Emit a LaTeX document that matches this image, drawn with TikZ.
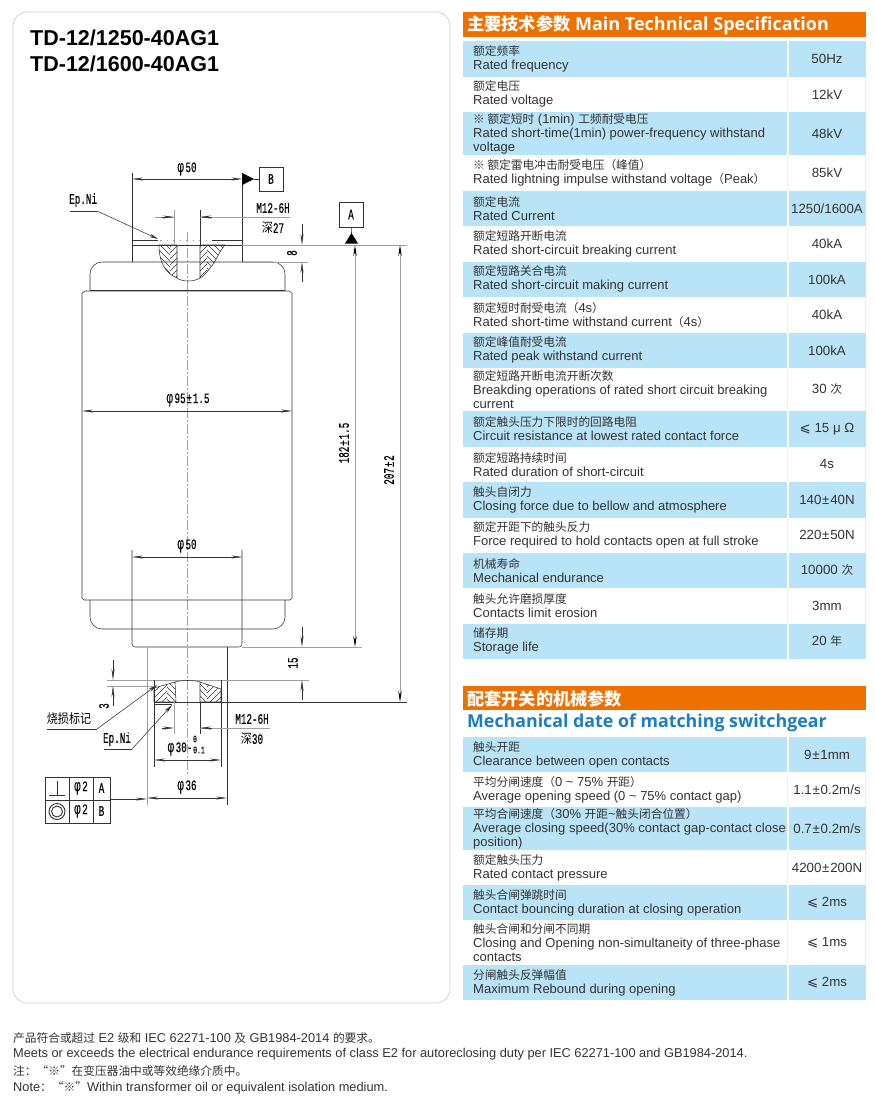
\documentclass[tikz,border=0pt]{standalone}
\usepackage{fontspec}
\usetikzlibrary{arrows.meta}
\setmainfont{Liberation Sans}
\newfontfamily\cjk{Noto Sans CJK SC}
\newfontfamily\cjkdraw[FakeStretch=0.85]{Noto Sans CJK SC}
\newfontfamily\headfont{Open Sans}
\newfontfamily\symb{DejaVu Sans}
\newfontfamily\drawfont[FakeStretch=0.64,FakeBold=0.2]{Liberation Mono}
\newcommand{\zh}[1]{{\cjk\fontsize{11.7}{14}\selectfont #1}}
\newcommand{\zhd}[1]{{\cjkdraw\fontsize{13}{14}\selectfont #1}}
\newcommand{\tolpm}{\kern0.8pt±\kern0.8pt}
\newcommand{\dia}{{\fontsize{17}{15}\selectfont φ}\kern1.5pt}
\definecolor{rowblue}{HTML}{B9E3F7}
\definecolor{headorange}{HTML}{EE7000}
\definecolor{headblue}{HTML}{1C7DC4}
\definecolor{inktext}{HTML}{333333}
\definecolor{inkline}{HTML}{333333}
\definecolor{greyline}{HTML}{A0A0A0}
\tikzstyle{specname} = [anchor=west, align=left, inner sep=0pt, text=inktext, font=\fontsize{13}{14}\selectfont]
\tikzstyle{specval} = [anchor=center, inner sep=0pt, text=inktext, font=\fontsize{13.3}{14}\selectfont]
\tikzstyle{headtext} = [anchor=west, inner sep=0pt, text=white, font=\headfont\bfseries\fontsize{18}{20}\selectfont]
\tikzstyle{notetext} = [anchor=west, inner sep=0pt, text=inktext, font=\fontsize{12.8}{14}\selectfont]
\tikzstyle{titletext} = [anchor=west, inner sep=0pt, font=\bfseries\fontsize{21.5}{23}\selectfont]
\tikzstyle{outline} = [inkline, line width=0.55pt]
\tikzstyle{thinline} = [greyline, line width=0.5pt]
\tikzstyle{dim} = [inkline, line width=0.45pt, {Stealth[length=11pt,width=3pt]}-{Stealth[length=11pt,width=3pt]}]
\tikzstyle{longdim} = [greyline, line width=0.8pt, {Stealth[length=11pt,width=3.5pt,color=black]}-{Stealth[length=11pt,width=3.5pt,color=black]}]
\tikzstyle{arrow} = [inkline, line width=0.45pt, -{Stealth[length=11pt,width=3pt]}]
\tikzstyle{leader} = [inkline, line width=0.55pt, -{Stealth[length=9pt,width=3.5pt]}]
\tikzstyle{axis} = [greyline, line width=0.45pt, dash pattern=on 10pt off 2pt on 2pt off 2pt]
\tikzstyle{label} = [inner sep=0pt, text=black, font=\drawfont\fontsize{14.5}{15}\selectfont]
\tikzstyle{smalllabel} = [inner sep=0pt, text=black, font=\drawfont\fontsize{10}{11}\selectfont]
\tikzstyle{datum} = [draw=inkline, line width=0.5pt, inner sep=0pt, text=black, font=\drawfont\fontsize{14.5}{15}\selectfont]
% hatch lines inside a path, cut to x0..x1: path, x0, x1, slope, y0, y1
\newcommand{\hatchpart}[6]{
    \begin{scope}
        \clip (#2,#5) rectangle (#3,#6);
        \clip #1;
        \foreach \hx in {100,106,...,280}
            \draw [inkline, line width=0.4pt] (\hx,#5) -- ({\hx+#4*(#6-#5)},#6);
    \end{scope}
}
% one table row: name, top, bottom, colour, text, value
\newcommand{\specrow}[6]{
    \ifx#4w\relax
        \draw [rowblue!45, line width=0.5pt] (787.5,#2) -- (787.5,#3);
        \draw [rowblue!45, line width=0.5pt] (865.5,#2) -- (865.5,#3);
    \else
        \fill [rowblue] (463,#2) rectangle (786.5,#3);
        \fill [rowblue] (788.5,#2) rectangle (866,#3);
    \fi
    \node [specname] at (473,{(#2+#3)/2}) (#1name) {#5};
    \node [specval] at (827,{(#2+#3)/2}) (#1val) {#6};
}
\newcommand{\hubtl}{(159,245) .. controls (159,262) and (165,273) .. (177,278) -- (177,245) -- cycle}
\newcommand{\hubtr}{(200,245) -- (225,245) .. controls (218,253) and (216,262) .. (210,268) .. controls (207,272) and (204,276) .. (200,278) -- cycle}
\newcommand{\hubll}{(154,688) -- (175,682) -- (176,702) -- (154,702) -- cycle}
\newcommand{\hublr}{(200,682) -- (221,689) -- (221,702) -- (200,702) -- cycle}
\begin{document}
\begin{tikzpicture}[x=1pt, y=-1pt]
    \useasboundingbox (0,0) rectangle (875,1100);
    \fill [white] (0,0) rectangle (875,1100);
    \draw [black!18, line width=0.8pt, rounded corners=14pt] (13,12) rectangle (450,1003);

    % title
    \node [titletext] at (30,38) (title1) {TD-12/1250-40AG1};
    \node [titletext] at (30,64) (title2) {TD-12/1600-40AG1};

    % drawing, body
    \draw [axis] (187.5,232) -- (187.5,775);
    \draw [outline] (82,293) -- (85,291) -- (289,291) -- (292,293) -- (292,598) -- (290,600) -- (84,600) -- (82,598) -- cycle;
    \draw [outline, rounded corners=12pt] (90,290) -- (90,262) -- (285,262) -- (285,290);
    \draw [outline] (90,290) -- (285,290);
    \draw [outline, rounded corners=12pt] (90,600) -- (90,629) -- (285,629) -- (285,600);
    % top terminal
    \hatchpart{\hubtl}{150}{170}{1}{245}{282}
    \hatchpart{\hubtl}{170}{180}{-1}{245}{282}
    \hatchpart{\hubtr}{198}{207}{-1}{245}{282}
    \hatchpart{\hubtr}{207}{230}{1}{245}{282}
    \draw [outline] \hubtl;
    \draw [outline] \hubtr;
    \draw [outline] (177,278) .. controls (182,282) and (194,282) .. (200,278);
    \draw [outline] (132,173) -- (132,262);
    \draw [outline] (242.3,173) -- (242.3,262);
    \draw [outline, line width=0.8pt] (132,240) -- (158,240);
    \draw [outline, line width=0.8pt] (212,240) -- (242,240);
    \draw [thinline, dash pattern=on 1.5pt off 5pt] (160,240) -- (212,240);
    \draw [thinline] (132,245) -- (407,245);
    \draw [outline] (132,245) -- (242,245);
    \draw [thinline] (242,262) -- (308,262);
    \draw [thinline] (174,210) -- (174,245);
    \draw [outline] (200,210) -- (200,245);
    % bottom terminal
    \draw [outline, rounded corners=3pt] (132,550) -- (132,647) -- (242,647) -- (242,550);
    \draw [thinline] (147,647) -- (147,805);
    \draw [outline] (227,647) -- (227,805);
    \draw [thinline] (242,647) -- (362,647);
    \draw [thinline] (107,680) -- (309,680);
    \draw [thinline] (107,686) -- (153,686);
    \hatchpart{\hubll}{150}{167}{-1}{680}{704}
    \hatchpart{\hubll}{167}{180}{1}{680}{704}
    \hatchpart{\hublr}{198}{207}{1}{680}{704}
    \hatchpart{\hublr}{207}{225}{-1}{680}{704}
    \draw [outline] \hubll;
    \draw [outline] \hublr;
    \draw [outline] (175,682) .. controls (180,680) and (195,680) .. (200,682);
    \draw [outline, line width=0.8pt] (154,702) -- (221,702);
    \draw [inkline, line width=0.7pt] (221,702) -- (407,702);
    \draw [outline] (154,704.5) -- (172,704.5);
    \draw [outline] (154,680) -- (154,767);
    \draw [outline] (221,680) -- (221,767);
    \draw [thinline] (174,702) -- (174,734);
    \draw [outline] (200,702) -- (200,734);

    % dimensions
    \coordinate (p50a) at (132,179);
    \coordinate (p50b) at (242.3,179);
    \draw [dim] (p50a) -- (p50b);
    \node [label] at (187,169) (p50top) {\dia 50};
    \node [datum, minimum width=24pt, minimum height=24pt] at (271,179) (datumB) {B};
    \fill [black] (242.3,173) -- (254,179) -- (242.3,185) -- cycle;
    \draw [outline] (254,179) -- (datumB);
    \coordinate (m12a) at (155,217);
    \coordinate (m12b) at (174,217);
    \coordinate (m12c) at (200,217);
    \coordinate (m12d) at (290,217);
    \draw [thinline] (m12a) -- (m12b);
    \draw [thinline] (m12c) -- (m12d);
    \draw [arrow] (162,217) -- (m12b);
    \draw [arrow] (212,217) -- (m12c);
    \node [label] at (273,208) (m12top) {M12-6H};
    \node [label] at (273,228) (deep27) {\zhd{深}27};
    \node [label, anchor=west] at (69,200) (epni) {Ep.Ni};
    \coordinate (epnia) at (70,211);
    \coordinate (epnib) at (97,211);
    \coordinate (epnic) at (158,239);
    \draw [outline] (epnia) -- (epnib);
    \draw [leader] (epnib) -- (epnic);
    \node [datum, minimum width=24pt, minimum height=25pt] at (351,214.5) (datumA) {A};
    \fill [black] (351.5,233) -- (358,243.5) -- (345,243.5) -- cycle;
    \draw [outline] (datumA) -- (351.5,233);
    \coordinate (d8top) at (302,224);
    \coordinate (d8mid) at (302,245);
    \coordinate (d8low) at (302,262);
    \coordinate (d8end) at (302,282);
    \draw [arrow] (d8top) -- (d8mid);
    \draw [arrow] (d8end) -- (d8low);
    \node [label, rotate=90] at (292,253) (d8) {8};
    \coordinate (w95a) at (82,411);
    \coordinate (w95b) at (292,411);
    \draw [dim] (w95a) -- (w95b);
    \node [label] at (188,400) (w95) {\dia 95\tolpm1.5};
    \coordinate (h182a) at (355,245);
    \coordinate (h182b) at (355,647);
    \draw [longdim] (h182a) -- (h182b);
    \node [label, rotate=90] at (344,443) (h182) {182\tolpm1.5};
    \coordinate (h207a) at (400,245);
    \coordinate (h207b) at (400,702);
    \draw [longdim] (h207a) -- (h207b);
    \node [label, rotate=90] at (389,470) (h207) {207\tolpm2};
    \coordinate (p50c) at (132,557);
    \coordinate (p50d) at (242.3,557);
    \draw [dim] (p50c) -- (p50d);
    \node [label] at (187,546) (p50low) {\dia 50};
    \coordinate (d15a) at (302,627);
    \coordinate (d15b) at (302,647);
    \coordinate (d15c) at (302,680);
    \coordinate (d15d) at (302,700);
    \draw [arrow] (d15a) -- (d15b);
    \draw [arrow] (d15d) -- (d15c);
    \node [label, rotate=90] at (293,663) (d15) {15};
    \coordinate (d3a) at (113,660);
    \coordinate (d3b) at (113,680);
    \coordinate (d3c) at (113,686);
    \coordinate (d3d) at (113,706);
    \draw [arrow] (d3a) -- (d3b);
    \draw [arrow] (d3d) -- (d3c);
    \node [label, rotate=90] at (104,706) (d3) {3};
    \node [label] at (69,719) (burn) {\zhd{烧损标记}};
    \coordinate (burna) at (47,729);
    \coordinate (burnb) at (97,729);
    \coordinate (burnc) at (157,685);
    \draw [outline] (burna) -- (burnb);
    \draw [leader] (burnb) -- (burnc);
    \node [label] at (117,739) (epnilow) {Ep.Ni};
    \coordinate (elowa) at (104,749);
    \coordinate (elowb) at (132,749);
    \coordinate (elowc) at (172,705);
    \draw [outline] (elowa) -- (elowb);
    \draw [leader] (elowb) -- (elowc);
    \coordinate (m12f) at (174,728);
    \coordinate (m12g) at (200,728);
    \coordinate (m12h) at (270,728);
    \draw [thinline] (m12g) -- (m12h);
    \draw [arrow] (162,728) -- (m12f);
    \draw [arrow] (212,728) -- (m12g);
    \node [label] at (252,719) (m12low) {M12-6H};
    \node [label] at (252,739) (deep30) {\zhd{深}30};
    \coordinate (p30a) at (154,760);
    \coordinate (p30b) at (221,760);
    \draw [dim] (p30a) -- (p30b);
    \node [label] at (180,749) (p30) {\dia 30-};
    \node [smalllabel] at (195,739) (p30up) {0};
    \node [smalllabel] at (199,750) (p30low) {0.1};
    \coordinate (p36a) at (147,798);
    \coordinate (p36b) at (227,798);
    \draw [dim] (p36a) -- (p36b);
    \node [label] at (187,787) (p36) {\dia 36};

    % tolerance frame
    \draw [outline] (45,777) rectangle (110,823);
    \draw [outline] (45,800) -- (110,800);
    \draw [outline] (69,777) -- (69,823);
    \draw [outline] (93,777) -- (93,823);
    \draw [inkline, line width=0.9pt] (49,795.5) -- (65,795.5);
    \draw [inkline, line width=0.9pt] (57,795.5) -- (57,781);
    \draw [inkline, line width=0.9pt] (57,811.5) circle [radius=8];
    \draw [inkline, line width=0.9pt] (57,811.5) circle [radius=5.5];
    \node [label] at (81,788) (tolp1) {\dia 2};
    \node [label] at (81,811) (tolp2) {\dia 2};
    \node [label] at (101.5,788) (tola) {A};
    \node [label] at (101.5,811) (tolb) {B};
    \coordinate (tolend) at (147,799);
    \draw [arrow] (110,799) -- (tolend);

    % first table
    \fill [headorange] (463,12) rectangle (866,37);
    \node [headtext] at (467,25) (head1) {{\cjk\bfseries\fontsize{17.2}{20}\selectfont 主要技术参数} Main Technical Specification};
    \specrow{r1}{41}{76.5}{b}{\zh{额定频率}\\Rated frequency}{50Hz}
    \specrow{r2}{76.5}{112}{w}{\zh{额定电压}\\Rated voltage}{12kV}
    \specrow{r3}{112}{155}{b}{\zh{※ 额定短时} (1min) \zh{工频耐受电压}\\Rated short-time(1min) power-frequency withstand\\voltage}{48kV}
    \specrow{r4}{155}{190.5}{w}{\zh{※ 额定雷电冲击耐受电压（峰值）}\\Rated lightning impulse withstand voltage\zh{（}Peak\zh{）}}{85kV}
    \specrow{r5}{190.5}{226}{b}{\zh{额定电流}\\Rated Current}{1250/1600A}
    \specrow{r6}{226}{261.5}{w}{\zh{额定短路开断电流}\\Rated short-circuit breaking current}{40kA}
    \specrow{r7}{261.5}{297}{b}{\zh{额定短路关合电流}\\Rated short-circuit making current}{100kA}
    \specrow{r8}{297}{332.5}{w}{\zh{额定短时耐受电流（}4s\zh{）}\\Rated short-time withstand current\zh{（}4s\zh{）}}{40kA}
    \specrow{r9}{332.5}{368}{b}{\zh{额定峰值耐受电流}\\Rated peak withstand current}{100kA}
    \specrow{r10}{368}{411}{w}{\zh{额定短路开断电流开断次数}\\Breakding operations of rated short circuit breaking\\current}{30 \zh{次}}
    \specrow{r11}{411}{446.5}{b}{\zh{额定触头压力下限时的回路电阻}\\Circuit resistance at lowest rated contact force}{{\symb ⩽} 15 μ Ω}
    \specrow{r12}{446.5}{482}{w}{\zh{额定短路持续时间}\\Rated duration of short-circuit}{4s}
    \specrow{r13}{482}{517.5}{b}{\zh{触头自闭力}\\Closing force due to bellow and atmosphere}{140\tolpm40N}
    \specrow{r14}{517.5}{553}{w}{\zh{额定开距下的触头反力}\\Force required to hold contacts open at full stroke}{220\tolpm50N}
    \specrow{r15}{553}{588}{b}{\zh{机械寿命}\\Mechanical endurance}{10000 \zh{次}}
    \specrow{r16}{588}{623.5}{w}{\zh{触头允许磨损厚度}\\Contacts limit erosion}{3mm}
    \specrow{r17}{623.5}{659}{b}{\zh{储存期}\\Storage life}{20 \zh{年}}

    % second table
    \fill [headorange] (463,686) rectangle (866,710);
    \node [headtext] at (467,699) (head2) {\cjk\bfseries\fontsize{17.2}{20}\selectfont 配套开关的机械参数};
    \node [headtext, text=headblue, font=\headfont\bfseries\fontsize{17.8}{20}\selectfont] at (467,722.5) (head3) {Mechanical date of matching switchgear};
    \specrow{m1}{737}{772}{b}{\zh{触头开距}\\Clearance between open contacts}{9\tolpm1mm}
    \specrow{m2}{772}{807}{w}{\zh{平均分闸速度（}0 \textasciitilde{} 75\% \zh{开距）}\\Average opening speed (0 \textasciitilde{} 75\% contact gap)}{1.1\tolpm0.2m/s}
    \specrow{m3}{807}{850}{b}{\zh{平均合闸速度（}30\% \zh{开距}\textasciitilde{}\zh{触头闭合位置）}\\Average closing speed(30\% contact gap-contact close\\position)}{0.7\tolpm0.2m/s}
    \specrow{m4}{850}{885}{w}{\zh{额定触头压力}\\Rated contact pressure}{4200\tolpm200N}
    \specrow{m5}{885}{920}{b}{\zh{触头合闸弹跳时间}\\Contact bouncing duration at closing operation}{{\symb ⩽} 2ms}
    \specrow{m6}{920}{965}{w}{\zh{触头合闸和分闸不同期}\\Closing and Opening non-simultaneity of three-phase\\contacts}{{\symb ⩽} 1ms}
    \specrow{m7}{965}{1000}{b}{\zh{分闸触头反弹幅值}\\Maximum Rebound during opening}{{\symb ⩽} 2ms}

    % notes
    \node [notetext] at (13,1038) (note1) {\zh{产品符合或超过} E2 \zh{级和} IEC 62271-100 \zh{及} GB1984-2014 \zh{的要求。}};
    \node [notetext] at (13,1054) (note2) {Meets or exceeds the electrical endurance requirements of class E2 for autoreclosing duty per IEC 62271-100 and GB1984-2014.};
    \node [notetext] at (13,1071) (note3) {\zh{注：“※”在变压器油中或等效绝缘介质中。}};
    \node [notetext] at (13,1088) (note4) {Note\zh{：“※”}Within transformer oil or equivalent isolation medium.};
\end{tikzpicture}
\end{document}
